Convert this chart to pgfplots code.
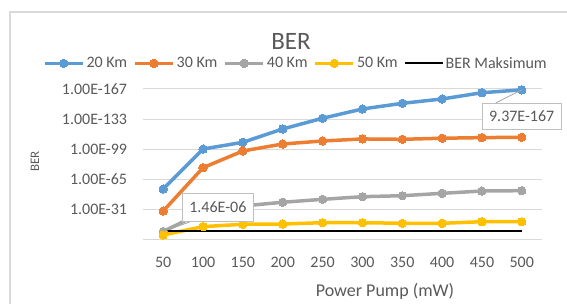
\documentclass[border=0pt]{standalone}
\usepackage{fontspec}
\setmainfont{Carlito}
\usepackage{pgfplots}
\pgfplotsset{compat=1.18}
\definecolor{cblue}{HTML}{5B9BD5}
\definecolor{corange}{HTML}{ED7D31}
\definecolor{cgray}{HTML}{A5A5A5}
\definecolor{cyellow}{HTML}{FFC000}
\definecolor{ctext}{HTML}{595959}
\definecolor{cgrid}{HTML}{D9D9D9}
\definecolor{cbox}{HTML}{BFBFBF}
\begin{document}
\begin{tikzpicture}[x=1pt,y=1pt]
\useasboundingbox (0,0) rectangle (567,304);
\draw[cgrid, line width=1.3pt] (10,292) rectangle (590,-20);
\begin{axis}[
  at={(143.3pt,64.7pt)}, anchor=south west,
  scale only axis, width=398.4pt, height=150.3pt,
  xmin=25, xmax=525, ymin=-3, ymax=167,
  clip=false,
  axis line style={draw=none},
  tick style={draw=none},
  /pgf/number format/assume math mode=true,
  xtick={50,100,150,200,250,300,350,400,450,500},
  xticklabels={50,100,150,200,250,300,350,400,450,500},
  ytick={-3,31,65,99,133,167},
  yticklabels={,1.00E-31,1.00E-65,1.00E-99,1.00E-133,1.00E-167},
  ymajorgrids, major grid style={cgrid, line width=1pt},
  ticklabel style={font=\fontsize{16}{18}\selectfont, text=ctext},
  xticklabel style={anchor=base, yshift=-28.4pt, inner sep=0pt},
  yticklabel style={anchor=east, inner sep=0pt, xshift=-16pt},
  legend columns=5,
  legend style={at={(0.383,1.171)}, anchor=center, draw=none, fill=none,
    font=\fontsize{16}{18}\selectfont, text=ctext,
    /tikz/every even column/.append style={column sep=4pt},
    inner sep=0pt},
  legend cell align=left,
  legend image code/.code={\draw[mark repeat=2,mark phase=2,#1] plot coordinates {(0pt,0pt) (19pt,0pt) (38pt,0pt)};},
  every axis plot/.append style={line width=3.5pt, mark=*, mark size=4.2pt},
]
\addplot[cblue, mark options={fill=cblue, draw=cblue, line width=0pt}] coordinates {
 (50,53.9) (100,99.1) (150,106.7) (200,121.8) (250,133.9) (300,144.4) (350,150.8) (400,155.7) (450,162.8) (500,166.03)};
\addlegendentry{20 Km}
\addplot[corange, mark options={fill=corange, draw=corange, line width=0pt}] coordinates {
 (50,29.0) (100,78.0) (150,96.9) (200,104.8) (250,108.2) (300,110.5) (350,110.1) (400,111.3) (450,112.0) (500,112.4)};
\addlegendentry{30 Km}
\addplot[cgray, mark options={fill=cgray, draw=cgray, line width=0pt}] coordinates {
 (50,5.84) (100,27.9) (150,34.7) (200,38.9) (250,42.2) (300,45.2) (350,46.3) (400,49.0) (450,51.6) (500,52.0)};
\addlegendentry{40 Km}
\addplot[cyellow, mark options={fill=cyellow, draw=cyellow, line width=0pt}] coordinates {
 (50,1.9) (100,11.3) (150,14.0) (200,14.3) (250,15.8) (300,15.8) (350,15.1) (400,15.1) (450,16.9) (500,16.9)};
\addlegendentry{50 Km}
\addplot[black, line width=1.8pt, mark=none] coordinates {
 (50,6) (100,6) (150,6) (200,6) (250,6) (300,6) (350,6) (400,6) (450,6) (500,6)};
\addlegendentry{BER Maksimum}
\coordinate (c1) at (axis cs:118.6,33);
\coordinate (p1) at (axis cs:50,5.84);
\coordinate (c2) at (axis cs:499.9,136.3);
\coordinate (p2) at (axis cs:500,166.03);
\end{axis}
\node[draw=cbox, fill=white, line width=0.8pt, text=ctext, font=\fontsize{16}{18}\selectfont,
  inner xsep=7pt, minimum height=28pt] (l1) at (c1) {1.46E-06};
\draw[cgray, line width=0.8pt] (p1) -- ([xshift=8pt]l1.south west);
\node[draw=cbox, fill=white, line width=0.8pt, text=ctext, font=\fontsize{16}{18}\selectfont,
  inner xsep=7pt, minimum height=25.7pt] (l2) at (c2) {9.37E-167};
\draw[cgray, line width=0.8pt] (p2) -- ([xshift=14pt]l2.north west);
\node[text=ctext, font=\fontsize{25}{28}\selectfont] at (291,262.3) {BER};
\node[text=ctext, font=\fontsize{18}{20}\selectfont] at (385,12.3) {Power Pump (mW)};
\node[text=ctext, font=\fontsize{13}{15}\selectfont, rotate=90] at (35,142.3) {BER};
\end{tikzpicture}
\end{document}
